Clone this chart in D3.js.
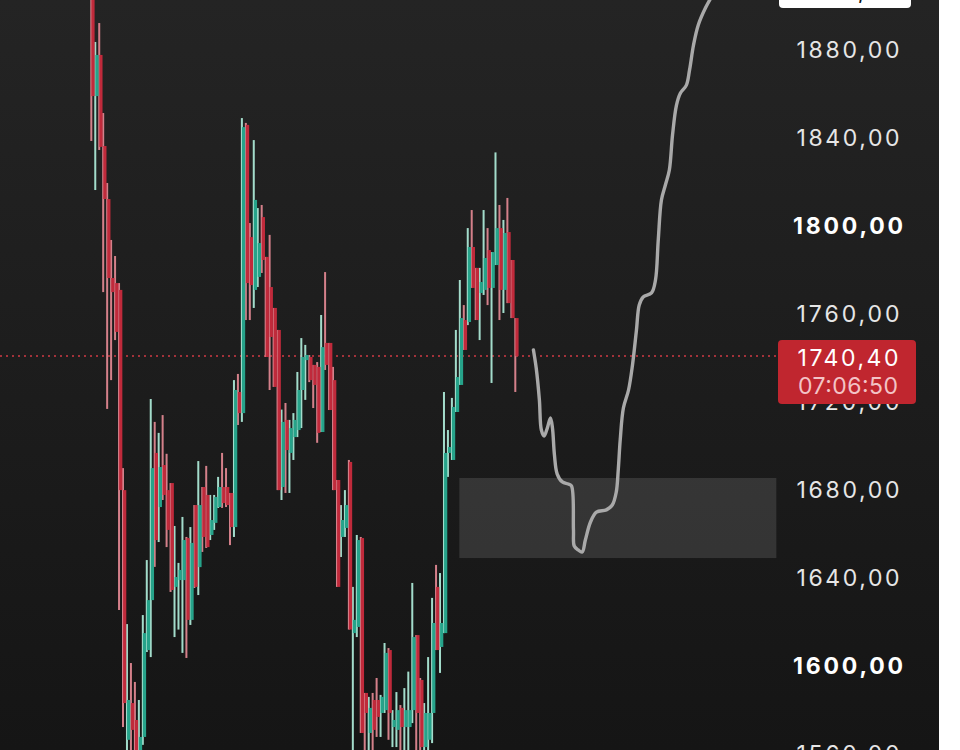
<!DOCTYPE html>
<html><head><meta charset="utf-8">
<script src="https://cdn.jsdelivr.net/npm/d3@7"></script>
<style>html,body{margin:0;padding:0;background:#fff;overflow:hidden}</style>
</head><body><svg id="c" width="960" height="750"></svg>
<script>
// ---- data ----
const barIndex = d3.range(108);
const opens = [1906.8,1858.6,1877.3,1835.9,1811.8,1775.9,1773.6,1770.5,1679.5,1566.0,
1582.7,1575.0,1559.1,1567.3,1606.8,1629.5,1696.4,1671.8,1690.9,1679.5,
1682.7,1635.5,1638.6,1638.6,1657.7,1620.5,1672.7,1644.5,1680.9,1677.3,
1659.1,1664.6,1671.8,1680.9,1680.9,1678.2,1662.7,1724.1,1714.5,1845.5,
1794.5,1770.5,1776.4,1803.6,1785.5,1771.8,1762.3,1752.3,1680.9,1711.4,
1696.4,1703.6,1706.8,1725.0,1738.6,1740.0,1736.4,1735.5,1705.9,1746.4,
1746.4,1729.5,1684.1,1658.2,1662.3,1692.3,1614.5,1617.3,1657.7,1587.3,
1569.1,1584.1,1584.1,1578.2,1579.5,1606.8,1571.8,1570.5,1580.5,1571.8,
1571.8,1579.5,1613.6,1593.2,1562.7,1566.0,1578.2,1635.5,1608.2,1614.5,
1696.4,1693.2,1715.0,1727.3,1756.8,1755.9,1790.0,1780.5,1769.1,1770.5,
1788.6,1771.4,1781.8,1798.6,1770.5,1796.8,1784.1,1757.7];
const highs = [1915.9,1883.2,1891.8,1850.9,1819.1,1793.2,1785.9,1773.6,1689.5,1618.6,
1600.9,1592.3,1584.1,1622.7,1647.7,1720.9,1710.5,1705.5,1713.6,1696.0,
1682.7,1663.2,1646.4,1667.3,1658.2,1662.7,1672.7,1692.7,1680.9,1690.5,
1677.3,1677.3,1685.5,1696.4,1689.5,1678.2,1729.5,1732.3,1848.6,1846.4,
1800.9,1838.6,1807.7,1809.1,1785.5,1795.5,1762.3,1752.3,1716.1,1719.1,
1711.4,1714.5,1733.2,1748.6,1745.5,1740.9,1736.4,1737.7,1759.1,1778.6,
1746.4,1735.5,1684.1,1672.7,1679.5,1693.2,1635.5,1659.1,1658.2,1587.3,
1585.5,1587.3,1594.1,1586.4,1610.0,1607.7,1579.5,1587.7,1581.8,1589.5,
1597.0,1637.3,1613.6,1594.1,1582.7,1603.6,1630.5,1645.5,1641.8,1724.1,
1706.8,1721.4,1752.3,1775.0,1763.6,1798.6,1806.8,1780.5,1780.5,1806.8,
1798.6,1787.7,1833.0,1809.1,1802.3,1812.3,1784.1,1757.7];
const lows = [1838.2,1815.9,1834.1,1769.5,1716.4,1729.5,1747.7,1625.0,1571.8,1554.0,
1555.0,1550.0,1549.0,1563.7,1605.9,1603.6,1644.6,1655.9,1675.0,1653.6,
1633.2,1612.7,1616.1,1605.5,1603.2,1618.2,1635.0,1631.8,1651.4,1653.2,
1656.8,1661.4,1671.4,1671.4,1671.8,1654.5,1658.2,1709.1,1710.5,1756.8,
1756.8,1762.3,1771.8,1778.2,1740.0,1725.0,1726.4,1679.5,1675.0,1678.2,
1678.2,1693.2,1703.6,1707.7,1720.5,1728.6,1716.8,1701.0,1705.9,1734.1,
1715.9,1679.5,1635.5,1649.1,1658.2,1616.1,1558.0,1612.7,1569.1,1558.0,
1557.0,1556.0,1567.3,1567.3,1578.2,1566.0,1562.7,1562.7,1557.0,1556.0,
1555.0,1573.6,1556.0,1555.0,1556.0,1556.0,1564.5,1606.8,1596.4,1614.5,
1685.5,1693.2,1715.0,1727.3,1743.2,1754.5,1771.4,1756.8,1747.7,1768.2,
1763.6,1728.2,1781.8,1756.8,1760.0,1764.5,1757.7,1724.1];
const closes = [1858.6,1877.3,1835.5,1811.8,1775.9,1769.5,1751.4,1679.5,1582.7,1584.1,
1570.5,1556.8,1567.3,1614.5,1629.5,1689.5,1656.8,1690.0,1677.3,1661.4,
1634.1,1640.0,1643.2,1656.8,1620.5,1655.5,1635.5,1672.7,1658.2,1653.6,
1665.9,1676.4,1680.9,1673.6,1672.7,1662.7,1725.0,1714.5,1844.5,1773.6,
1772.7,1811.4,1791.8,1784.1,1740.0,1749.1,1726.4,1679.5,1710.5,1697.7,
1707.7,1711.4,1725.0,1740.0,1740.9,1729.5,1727.3,1705.5,1744.5,1736.4,
1715.9,1679.5,1635.5,1665.9,1672.7,1616.1,1620.5,1656.8,1569.1,1578.2,
1580.5,1570.5,1576.4,1585.5,1605.5,1578.2,1575.0,1579.5,1571.8,1579.5,
1579.5,1612.7,1578.2,1562.7,1578.2,1578.2,1619.1,1606.8,1619.1,1696.4,
1699.1,1717.3,1730.9,1757.7,1743.2,1790.0,1771.4,1756.8,1774.1,1785.0,
1771.4,1787.7,1798.6,1770.5,1796.4,1764.5,1757.7,1740.4];

// projected path (bar index, price)
const projIdx = [111.4,112.1,112.9,113.4,114.1,114.9,115.7,116.2,116.7,117.4,118.7,120.2,121.0,121.5,121.7,
122.7,123.7,124.5,125.8,127.3,129.8,131.3,132.3,132.8,133.3,134.1,135.4,136.4,137.4,138.1,139.1,141.2,
142.2,142.9,143.7,144.7,145.7,146.5,147.5,148.5,150.0,150.8,151.8,153.0,154.8,156.6];
const projPrice = [1743.2,1735.0,1720.5,1706.8,1704.1,1707.7,1712.3,1707.7,1695.5,1686.8,1683.2,1682.3,1681.4,1661.4,1654.1,
1652.3,1651.4,1656.8,1665.0,1669.5,1670.5,1672.7,1678.6,1688.6,1702.3,1716.8,1725.0,1736.4,1752.3,1763.6,1767.3,1769.1,
1775.0,1793.2,1811.4,1818.2,1825.0,1840.9,1854.5,1860.0,1863.6,1870.5,1881.8,1890.9,1898.6,1904.5];

const zoneIdx = [92.7, 172.7];
const zonePrice = [1648.6, 1685.0];
const tickValues = [1560,1600,1640,1680,1720,1760,1800,1840,1880];
const boldTicks = [1600,1800];
const lastPrice = 1740.40;
const countdown = "07:06:50";
const topLabel = "1907,20";

// ---- drawing ----
const W = 960, H = 750;
const svg = d3.select("#c");
const defs = svg.append("defs");
const grad = defs.append("linearGradient").attr("id","bg").attr("x1",0).attr("y1",0).attr("x2",0).attr("y2",1);
grad.append("stop").attr("offset","0%").attr("stop-color","#242424");
grad.append("stop").attr("offset","100%").attr("stop-color","#151515");
svg.append("rect").attr("width",939).attr("height",H).attr("fill","url(#bg)");
svg.append("rect").attr("x",939).attr("width",W-939).attr("height",H).attr("fill","#ffffff");

const x = d3.scaleLinear().domain([0,107]).range([92,516]);
const y = d3.scaleLinear().domain([1560,1880]).range([753,49]);
const fmt = v => d3.format(".2f")(v).replace(".", ",");

// zone
svg.append("rect")
  .attr("x", x(zoneIdx[0])).attr("width", x(zoneIdx[1]) - x(zoneIdx[0]))
  .attr("y", y(zonePrice[1])).attr("height", y(zonePrice[0]) - y(zonePrice[1]))
  .attr("fill", "#ffffff").attr("fill-opacity", 0.12);

// last price dotted line
svg.append("line")
  .attr("x1", 0).attr("x2", 778)
  .attr("y1", y(lastPrice)).attr("y2", y(lastPrice))
  .attr("stroke", "#a3323a").attr("stroke-width", 2).attr("stroke-dasharray", "2,4");

// candles
const data = barIndex.map(i => ({i, o: opens[i], h: highs[i], l: lows[i], c: closes[i]}));
const cg = svg.append("g");
cg.selectAll("rect.wick").data(data).enter().append("rect").attr("class","wick")
  .attr("x", d => x(d.i) - 1.7).attr("width", 2)
  .attr("y", d => y(d.h)).attr("height", d => Math.max(1, y(d.l) - y(d.h)))
  .attr("fill", d => d.c >= d.o ? "#a3dccb" : "#d4808a");
cg.selectAll("rect.body").data(data).enter().append("rect").attr("class","body")
  .attr("x", d => x(d.i) - 0.6).attr("width", 3.2)
  .attr("y", d => y(Math.max(d.o, d.c))).attr("height", d => Math.max(1.5, Math.abs(y(d.o) - y(d.c))))
  .attr("fill", d => d.c >= d.o ? "#26a38a" : "#c02a3b");

// projection
const proj = projIdx.map((v, k) => [v, projPrice[k]]);
svg.append("path").datum(proj)
  .attr("d", d3.line().x(d => x(d[0])).y(d => y(d[1])).curve(d3.curveCatmullRom.alpha(0.5)))
  .attr("fill", "none").attr("stroke", "#a9a9a9").attr("stroke-width", 3.4)
  .attr("stroke-linecap", "round").attr("stroke-linejoin", "round");

// right axis
const ax = svg.append("g").attr("transform", "translate(848,0)")
  .call(d3.axisRight(y).tickValues(tickValues).tickSize(0).tickFormat(fmt));
ax.select(".domain").remove();
ax.selectAll("text")
  .attr("x", 0).attr("dy", "0.37em")
  .attr("text-anchor", "middle")
  .attr("font-family", "Inter, 'Noto Sans', sans-serif")
  .attr("font-size", 23)
  .attr("font-weight", d => boldTicks.includes(d) ? 700 : 400)
  .attr("fill", d => boldTicks.includes(d) ? "#ffffff" : "#e6e6e6")
  .attr("textLength", d => boldTicks.includes(d) ? 110 : 103)
  .attr("lengthAdjust", "spacing");

// top white label (cut off)
svg.append("rect").attr("x", 779).attr("y", -30).attr("width", 132).attr("height", 38).attr("rx", 4).attr("fill", "#ffffff");
svg.append("text").attr("x", 848).attr("y", -1).attr("text-anchor", "middle")
  .attr("font-family", "Inter, sans-serif").attr("font-size", 23).attr("fill", "#111")
  .attr("textLength", 103).attr("lengthAdjust", "spacing").text(topLabel);

// last price label
const ly = y(lastPrice);
svg.append("rect").attr("x", 778).attr("y", ly - 16).attr("width", 138).attr("height", 64).attr("rx", 4).attr("fill", "#c0262f");
svg.append("text").attr("x", 848).attr("y", ly + 10).attr("text-anchor", "middle")
  .attr("font-family", "Inter, sans-serif").attr("font-size", 23).attr("fill", "#ffffff")
  .attr("textLength", 101).attr("lengthAdjust", "spacing").text(fmt(lastPrice));
svg.append("text").attr("x", 848).attr("y", ly + 38).attr("text-anchor", "middle")
  .attr("font-family", "Inter, sans-serif").attr("font-size", 23).attr("fill", "#f3c3c6")
  .attr("textLength", 100).attr("lengthAdjust", "spacing").text(countdown);
</script>
</body></html>
